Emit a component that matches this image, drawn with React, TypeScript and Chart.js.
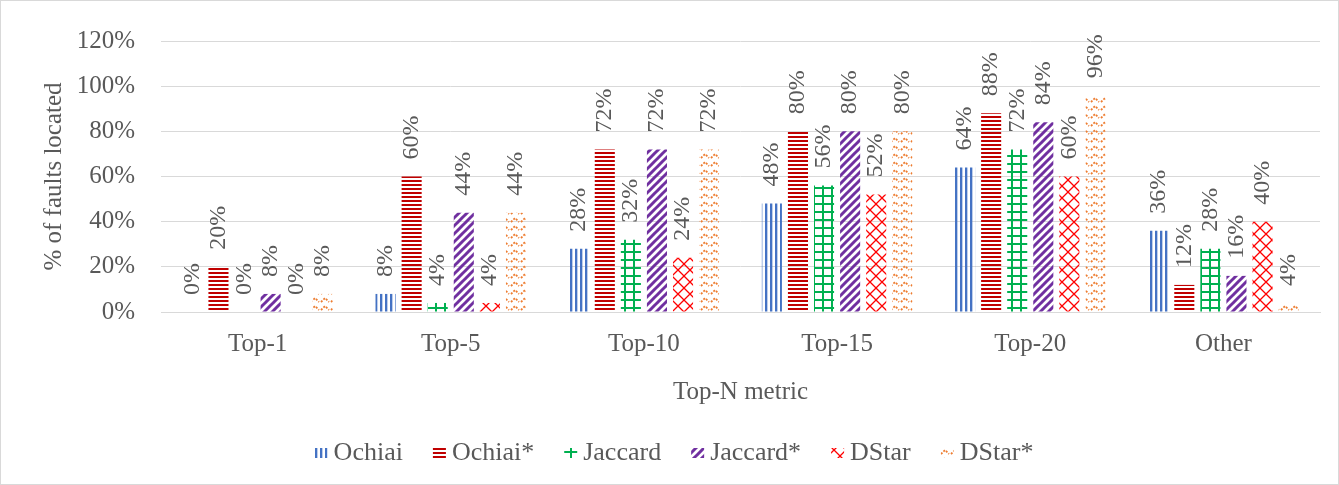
import React, { useEffect, useRef } from "react";
import { Chart, registerables } from "chart.js";

Chart.register(...registerables);

const categories = ["Top-1", "Top-5", "Top-10", "Top-15", "Top-20", "Other"];
const seriesNames = ["Ochiai", "Ochiai*", "Jaccard", "Jaccard*", "DStar", "DStar*"];
const ochiai = [0, 8, 28, 48, 64, 36];
const ochiaiStar = [20, 60, 72, 80, 88, 12];
const jaccard = [0, 4, 32, 56, 72, 28];
const jaccardStar = [8, 44, 72, 80, 84, 16];
const dstar = [0, 4, 24, 52, 60, 40];
const dstarStar = [8, 44, 72, 80, 96, 4];
const yTicks = [0, 20, 40, 60, 80, 100, 120];

const FONT = "'Liberation Serif', 'Times New Roman', serif";
const TEXT = "#595959";
const GRID = "#D9D9D9";

function makePattern(kind: string): CanvasPattern | string {
  const c = document.createElement("canvas");
  const g = c.getContext("2d")!;
  if (kind === "vlines") {
    c.width = 5; c.height = 4;
    g.fillStyle = "#4472C4";
    g.fillRect(0, 0, 2, 4);
    g.fillStyle = "rgba(68,114,196,0.35)";
    g.fillRect(2, 0, 1, 4);
  } else if (kind === "hlines") {
    c.width = 4; c.height = 4;
    g.fillStyle = "#C00000";
    g.fillRect(0, 0, 4, 2);
  } else if (kind === "grid") {
    c.width = 9; c.height = 8;
    g.fillStyle = "#00B050";
    g.fillRect(3, 0, 2, 8);
    g.fillRect(0, 3, 9, 2);
  } else if (kind === "diag") {
    c.width = 8; c.height = 8;
    g.strokeStyle = "#7030A0";
    g.lineWidth = 3;
    g.beginPath();
    for (let k = -2; k <= 2; k++) {
      g.moveTo(k * 8 - 1, 9);
      g.lineTo(k * 8 + 9, -1);
    }
    g.stroke();
  } else if (kind === "zigzag") {
    c.width = 12; c.height = 12;
    g.strokeStyle = "#FF0000";
    g.lineWidth = 1.3;
    g.beginPath();
    g.moveTo(0, 0); g.lineTo(12, 12);
    g.moveTo(12, 0); g.lineTo(0, 12);
    g.stroke();
  } else {
    c.width = 10; c.height = 8;
    g.strokeStyle = "#ED7D31";
    g.lineWidth = 1.8;
    g.setLineDash([2, 1.5]);
    g.beginPath();
    g.moveTo(1, 6); g.lineTo(5, 2); g.lineTo(9, 6);
    g.stroke();
  }
  const p = g.createPattern(c, "repeat");
  return p || "#888";
}

const dataLabels = {
  id: "dataLabels",
  afterDatasetsDraw(chart: any) {
    const ctx = chart.ctx;
    ctx.save();
    ctx.font = `24px ${FONT}`;
    ctx.fillStyle = TEXT;
    ctx.textAlign = "left";
    ctx.textBaseline = "middle";
    chart.data.datasets.forEach((ds: any, i: number) => {
      const meta = chart.getDatasetMeta(i);
      meta.data.forEach((el: any, j: number) => {
        const v = ds.data[j];
        ctx.save();
        ctx.translate(el.x, el.y - 17);
        ctx.rotate(-Math.PI / 2);
        ctx.fillText(`${v}%`, 0, 0);
        ctx.restore();
      });
    });
    ctx.restore();
  },
};

const legendAndBorder = {
  id: "legendAndBorder",
  afterDraw(chart: any) {
    const ctx = chart.ctx;
    ctx.save();
    ctx.font = `26px ${FONT}`;
    const boxW = 13;
    const boxH = 10;
    const gapBoxText = 6;
    const gapItems = 30;
    const items = chart.data.datasets.map((ds: any) => ({
      label: ds.label,
      fill: ds.backgroundColor,
      w: ctx.measureText(ds.label).width,
    }));
    const total =
      items.reduce((s: number, it: any) => s + boxW + gapBoxText + it.w, 0) +
      gapItems * (items.length - 1);
    let x = 674 - total / 2;
    const cy = 453;
    items.forEach((it: any) => {
      ctx.fillStyle = it.fill;
      ctx.fillRect(x, cy - boxH / 2, boxW, boxH);
      x += boxW + gapBoxText;
      ctx.fillStyle = TEXT;
      ctx.textAlign = "left";
      ctx.textBaseline = "middle";
      ctx.fillText(it.label, x, cy);
      x += it.w + gapItems;
    });
    ctx.strokeStyle = GRID;
    ctx.lineWidth = 1;
    ctx.strokeRect(0.5, 0.5, chart.width - 1, chart.height - 1);
    ctx.restore();
  },
};

export default function App() {
  const ref = useRef<HTMLCanvasElement>(null);
  useEffect(() => {
    document.body.style.margin = "0";
    const kinds = ["vlines", "hlines", "grid", "diag", "zigzag", "waves"];
    const values = [ochiai, ochiaiStar, jaccard, jaccardStar, dstar, dstarStar];
    const chart = new Chart(ref.current!, {
      type: "bar",
      data: {
        labels: categories,
        datasets: seriesNames.map((name, i) => ({
          label: name,
          data: values[i],
          backgroundColor: makePattern(kinds[i]) as any,
          borderWidth: 0,
          categoryPercentage: 0.81,
          barPercentage: 0.77,
        })),
      },
      options: {
        responsive: false,
        animation: false,
        layout: { padding: { left: 0, right: 19, top: 37, bottom: 60 } },
        plugins: {
          tooltip: { enabled: false },
          legend: { display: false },
        },
        scales: {
          x: {
            grid: { display: false, drawTicks: false },
            border: { display: true, color: GRID },
            ticks: { color: TEXT, font: { family: FONT, size: 25 }, padding: 17 },
            title: {
              display: true,
              text: "Top-N metric",
              color: TEXT,
              font: { family: FONT, size: 25 },
              padding: { top: 0, bottom: 18 },
            },
            afterFit(scale: any) {
              scale.height = 113;
            },
          },
          y: {
            min: 0,
            max: 120,
            afterBuildTicks(scale: any) {
              scale.ticks = yTicks.map((v) => ({ value: v }));
            },
            grid: { color: GRID, drawTicks: false },
            border: { display: false },
            ticks: {
              color: TEXT,
              font: { family: FONT, size: 25 },
              padding: 26,
              callback: (v: any) => `${v}%`,
            },
            title: {
              display: true,
              text: "% of faults located",
              color: TEXT,
              font: { family: FONT, size: 25 },
              padding: { top: 39, bottom: 0 },
            },
            afterFit(scale: any) {
              scale.width = 161;
            },
          },
        },
      },
      plugins: [dataLabels, legendAndBorder],
    });
    return () => chart.destroy();
  }, []);
  return <canvas ref={ref} width={1339} height={485} />;
}
